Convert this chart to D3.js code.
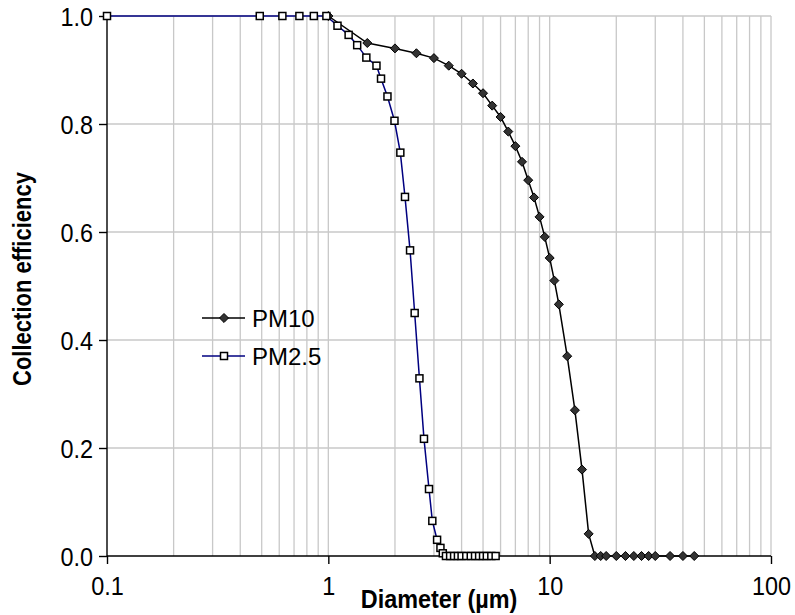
<!DOCTYPE html>
<html lang="en">
<head>
<meta charset="utf-8" />
<title>Collection efficiency</title>
<script src="https://d3js.org/d3.v7.min.js"></script>
<style>
  body { margin: 0; background: #fff; }
  svg text { font-family: Arial, "Liberation Sans", sans-serif; fill: #000; }
</style>
</head>
<body>
<script>
// PM10 curve (diameter in um, efficiency)
const pm10Diam = [1, 1.5, 2, 2.5, 3, 3.5, 4, 4.5, 5, 5.5, 6, 6.5, 7, 7.5, 8, 8.5, 9, 9.5, 10, 10.5, 11,
  12, 13, 14, 15, 16, 17, 18, 20, 22, 24, 26, 28, 30, 35, 40, 45];
const pm10Eff = [1.0, 0.950, 0.940, 0.931, 0.922, 0.908, 0.893, 0.875, 0.857, 0.834, 0.813, 0.786, 0.759,
  0.730, 0.696, 0.664, 0.628, 0.591, 0.552, 0.510, 0.466, 0.370, 0.270, 0.160, 0.041,
  0, 0, 0, 0, 0, 0, 0, 0, 0, 0, 0, 0];

// PM2.5 curve
const pm25Diam = [0.1, 0.49, 0.62, 0.74, 0.86, 0.98, 1.1, 1.235, 1.35, 1.485, 1.65, 1.73, 1.85, 1.99,
  2.115, 2.22, 2.34, 2.455, 2.58, 2.705, 2.85, 2.95, 3.1, 3.21, 3.29,
  3.4, 3.55, 3.7, 3.85, 4.0, 4.2, 4.4, 4.6, 4.8, 5.0, 5.2, 5.45, 5.7];
const pm25Eff = [1, 1, 1, 1, 1, 1, 0.982, 0.965, 0.946, 0.923, 0.908, 0.884, 0.851, 0.806,
  0.747, 0.665, 0.566, 0.450, 0.329, 0.217, 0.124, 0.065, 0.030, 0.015, 0.005,
  0, 0, 0, 0, 0, 0, 0, 0, 0, 0, 0, 0, 0];

const xTicks = [0.1, 1, 10, 100];
const yTicks = [0, 0.2, 0.4, 0.6, 0.8, 1.0];
const seriesNames = ["PM10", "PM2.5"];

const width = 795, height = 615;
const plotLeft = 107, plotRight = 771, plotTop = 16, plotBottom = 556;

const svg = d3.select("body").append("svg")
  .attr("width", width)
  .attr("height", height);

const x = d3.scaleLog().domain([0.1, 100]).range([plotLeft, plotRight]);
const y = d3.scaleLinear().domain([0, 1]).range([plotBottom, plotTop]);

// squeeze text a bit horizontally, the original font looks narrow
function condense(sel, k) {
  sel.each(function () {
    const w = this.getComputedTextLength();
    d3.select(this).attr("textLength", w * k).attr("lengthAdjust", "spacingAndGlyphs");
  });
}

// vertical gridlines at every 1..9 of each decade
const minor = [];
[0.1, 1, 10].forEach(dec => { for (let k = 1; k <= 9; k++) minor.push(dec * k); });
minor.push(100);

svg.append("g")
  .selectAll("line")
  .data(minor.filter(v => v > 0.1))
  .join("line")
  .attr("x1", d => x(d)).attr("x2", d => x(d))
  .attr("y1", plotTop).attr("y2", plotBottom)
  .attr("stroke", "#c8c8c8")
  .attr("stroke-width", 1.3);

svg.append("g")
  .selectAll("line")
  .data(yTicks.filter(v => v > 0))
  .join("line")
  .attr("x1", plotLeft).attr("x2", plotRight)
  .attr("y1", d => y(d)).attr("y2", d => y(d))
  .attr("stroke", "#c8c8c8")
  .attr("stroke-width", 1.3);

// axes
const xAxis = d3.axisBottom(x)
  .tickValues(xTicks)
  .tickFormat(d => d3.format("")(d))
  .tickSize(8)
  .tickPadding(13);

const yAxis = d3.axisLeft(y)
  .tickValues(yTicks)
  .tickFormat(d3.format(".1f"))
  .tickSize(8)
  .tickPadding(6);

const gx = svg.append("g")
  .attr("transform", `translate(0,${plotBottom})`)
  .call(xAxis);
gx.select(".domain").attr("d", `M${plotLeft},0H${plotRight}`);

const gy = svg.append("g")
  .attr("transform", `translate(${plotLeft},0)`)
  .call(yAxis);
gy.select(".domain").attr("d", `M0,${plotTop}V${plotBottom}`);

[gx, gy].forEach(g => {
  g.selectAll("path, line").attr("stroke", "#000").attr("stroke-width", 1.4);
  g.selectAll("text")
    .style("font-size", "26px")
    .attr("fill", "#000")
    .call(condense, 0.9);
});
gy.selectAll("text").attr("dy", "0.35em");
gx.selectAll("text").attr("dy", "0.71em");

// axis titles
svg.append("text")
  .attr("x", 439).attr("y", 608)
  .attr("text-anchor", "middle")
  .style("font-size", "26px")
  .style("font-weight", "bold")
  .text("Diameter (µm)")
  .call(condense, 0.9);

svg.append("text")
  .attr("transform", "translate(31,279) rotate(-90)")
  .attr("text-anchor", "middle")
  .style("font-size", "25px")
  .style("font-weight", "bold")
  .text("Collection efficiency")
  .call(condense, 0.88);

const line = d3.line().x(d => x(d[0])).y(d => y(d[1]));
const pm10 = pm10Diam.map((d, i) => [d, pm10Eff[i]]);
const pm25 = pm25Diam.map((d, i) => [d, pm25Eff[i]]);

const diamond = d3.symbol().type(d3.symbolDiamond2).size(52);

// PM10 series
svg.append("path")
  .datum(pm10)
  .attr("d", line)
  .attr("fill", "none")
  .attr("stroke", "#000")
  .attr("stroke-width", 1.5);

svg.append("g")
  .selectAll("path")
  .data(pm10)
  .join("path")
  .attr("transform", d => `translate(${x(d[0])},${y(d[1])})`)
  .attr("d", diamond)
  .attr("fill", "#333")
  .attr("stroke", "#000")
  .attr("stroke-width", 1);

// PM2.5 series
svg.append("path")
  .datum(pm25)
  .attr("d", line)
  .attr("fill", "none")
  .attr("stroke", "#000080")
  .attr("stroke-width", 1.5);

svg.append("g")
  .selectAll("rect")
  .data(pm25)
  .join("rect")
  .attr("x", d => x(d[0]) - 3.5)
  .attr("y", d => y(d[1]) - 3.5)
  .attr("width", 7).attr("height", 7)
  .attr("fill", "#fff")
  .attr("stroke", "#000")
  .attr("stroke-width", 1.5);

// legend
const leg = svg.append("g");
const legY = [318, 356];
leg.append("line")
  .attr("x1", 202).attr("x2", 245).attr("y1", legY[0]).attr("y2", legY[0])
  .attr("stroke", "#000").attr("stroke-width", 1.5);
leg.append("path")
  .attr("transform", `translate(224,${legY[0]})`)
  .attr("d", diamond)
  .attr("fill", "#333").attr("stroke", "#000");
leg.append("line")
  .attr("x1", 202).attr("x2", 245).attr("y1", legY[1]).attr("y2", legY[1])
  .attr("stroke", "#000080").attr("stroke-width", 1.5);
leg.append("rect")
  .attr("x", 220.5).attr("y", legY[1] - 3.5)
  .attr("width", 7).attr("height", 7)
  .attr("fill", "#fff").attr("stroke", "#000").attr("stroke-width", 1.5);
leg.selectAll("text")
  .data(seriesNames)
  .join("text")
  .attr("x", 252)
  .attr("y", (d, i) => legY[i] + 8.5)
  .style("font-size", "24px")
  .text(d => d);
</script>
</body>
</html>
